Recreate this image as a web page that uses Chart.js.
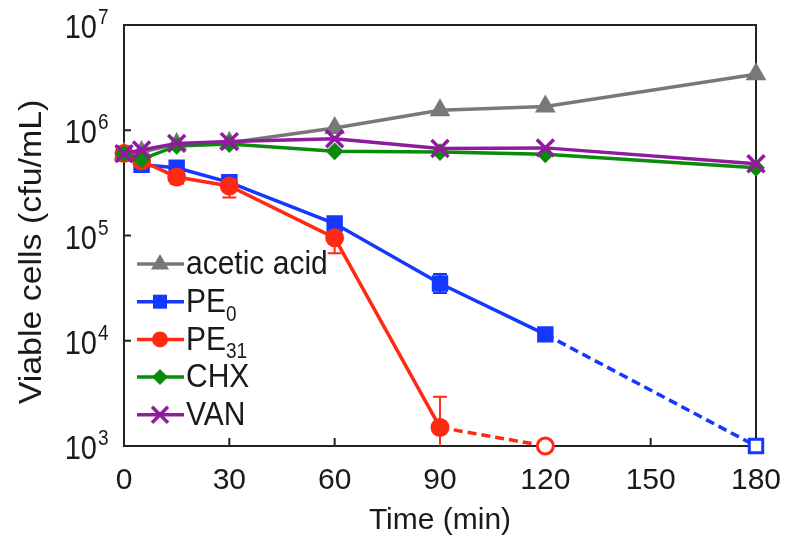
<!DOCTYPE html>
<html>
<head>
<meta charset="utf-8">
<script src="https://cdn.jsdelivr.net/npm/chart.js@4.4.0/dist/chart.umd.min.js"></script>
<style>
  html, body { margin: 0; padding: 0; background: #fff; }
</style>
</head>
<body>
<canvas id="grafico" width="787" height="539"></canvas>
<script>
// time points (min)
const times = [0, 5, 15, 30, 60, 90, 120, 180];
const xTicks = [0, 30, 60, 90, 120, 150, 180];
const yTicks = [1e3, 1e4, 1e5, 1e6, 1e7];

// viable cells (cfu/mL)
const aceticAcid = [6.0e5, 6.2e5, 7.4e5, 7.6e5, 1.05e6, 1.55e6, 1.68e6, 3.4e6];
const pe0 = [6.0e5, 4.7e5, 4.4e5, 3.2e5, 1.3e5, 3.5e4, 1.15e4, 1.0e3];
const pe31 = [6.0e5, 5.1e5, 3.6e5, 2.95e5, 9.5e4, 1.5e3, 1.0e3];
const chx = [6.0e5, 5.3e5, 7.1e5, 7.4e5, 6.3e5, 6.2e5, 5.9e5, 4.4e5];
const van = [6.0e5, 6.5e5, 7.5e5, 7.8e5, 8.3e5, 6.7e5, 6.8e5, 4.8e5];

// error bars [low, high]
const pe0Err = [null, null, [3.8e5, 5.0e5], [2.8e5, 3.6e5], [1.15e5, 1.5e5], [2.85e4, 4.3e4], [1.05e4, 1.25e4], null];
const pe31Err = [null, null, [3.1e5, 4.1e5], [2.3e5, 3.4e5], [6.8e4, 1.1e5], [1.0e3, 2.93e3], null];

const FONT = "'Liberation Sans', Arial, sans-serif";
const TXT = "#1a1a1a";

const cinza = "#787878";
const azul = "#1438ff";
const vermelho = "#ff2a14";
const verde = "#0a8c0a";
const roxo = "#8e1c9c";

function pontos(vals) {
  return vals.map((v, i) => ({ x: times[i], y: v }));
}

// last point below the detection limit: open marker + dashed segment
function abaixoLimite(vals, cor) {
  const last = vals.length - 1;
  return {
    pointBackgroundColor: vals.map((v, i) => i === last ? "#fff" : cor),
    segment: { borderDash: c => c.p1DataIndex === last ? [9, 5] : undefined }
  };
}

const serie = (label, vals, cor, style, radius, order, extra) => Object.assign({
  label: label,
  data: pontos(vals),
  borderColor: cor,
  backgroundColor: cor,
  pointBackgroundColor: cor,
  pointBorderColor: cor,
  borderWidth: 3.5,
  pointStyle: style,
  pointRadius: radius,
  pointBorderWidth: 2,
  order: order,
  clip: false
}, extra || {});

const datasets = [
  serie("acetic acid", aceticAcid, cinza, "triangle", 10, 4),
  serie("PE0", pe0, azul, "rect", 9.5, 3, abaixoLimite(pe0, azul)),
  serie("PE31", pe31, vermelho, "circle", 8, 2, abaixoLimite(pe31, vermelho)),
  serie("CHX", chx, verde, "rectRot", 7.5, 1),
  serie("VAN", van, roxo, "crossRot", 12, 0, { pointBorderWidth: 3.5 })
];
datasets[1].pointBorderWidth = 3;
datasets[2].pointBorderWidth = 3;

const errosPorSerie = [[1, pe0Err, azul], [2, pe31Err, vermelho]];

function marcador(ctx, style, x, y, cor) {
  ctx.save();
  ctx.fillStyle = cor;
  ctx.strokeStyle = cor;
  ctx.lineWidth = 3.5;
  ctx.beginPath();
  if (style === "triangle") {
    ctx.moveTo(x, y - 10); ctx.lineTo(x + 9, y + 5.5); ctx.lineTo(x - 9, y + 5.5); ctx.closePath(); ctx.fill();
  } else if (style === "rect") {
    ctx.rect(x - 7, y - 7, 14, 14); ctx.fill();
  } else if (style === "circle") {
    ctx.arc(x, y, 8, 0, Math.PI * 2); ctx.fill();
  } else if (style === "rectRot") {
    ctx.moveTo(x, y - 8); ctx.lineTo(x + 8, y); ctx.lineTo(x, y + 8); ctx.lineTo(x - 8, y); ctx.closePath(); ctx.fill();
  } else {
    ctx.moveTo(x - 8, y - 8); ctx.lineTo(x + 8, y + 8); ctx.moveTo(x + 8, y - 8); ctx.lineTo(x - 8, y + 8); ctx.stroke();
  }
  ctx.restore();
}

// text drawn a little taller than wide, like the reference
function textoAlto(ctx, txt, x, y, size, align, baseline) {
  ctx.save();
  ctx.translate(x, y);
  ctx.scale(1, 1.13);
  ctx.font = size + "px " + FONT;
  ctx.textAlign = align;
  ctx.textBaseline = baseline;
  ctx.fillText(txt, 0, 0);
  ctx.restore();
}

const moldura = {
  id: "moldura",
  beforeDatasetsDraw(chart) {
    const { ctx, chartArea: a, scales: { x, y } } = chart;
    ctx.save();
    ctx.strokeStyle = "#222";
    ctx.lineWidth = 2;
    ctx.strokeRect(a.left, a.top, a.right - a.left, a.bottom - a.top);
    ctx.beginPath();
    yTicks.forEach(v => {
      const py = y.getPixelForValue(v);
      ctx.moveTo(a.left, py); ctx.lineTo(a.left + 7, py);
    });
    xTicks.forEach(v => {
      const px = x.getPixelForValue(v);
      ctx.moveTo(px, a.bottom); ctx.lineTo(px, a.bottom - 8);
    });
    ctx.stroke();

    // error bars
    errosPorSerie.forEach(([idx, errs, cor]) => {
      ctx.strokeStyle = cor;
      ctx.lineWidth = 2;
      errs.forEach((e, i) => {
        if (!e) return;
        const px = x.getPixelForValue(times[i]);
        const lo = Math.min(y.getPixelForValue(e[0]), a.bottom);
        const hi = y.getPixelForValue(e[1]);
        ctx.beginPath();
        ctx.moveTo(px, lo); ctx.lineTo(px, hi);
        ctx.moveTo(px - 7, hi); ctx.lineTo(px + 7, hi);
        if (lo < a.bottom - 1) { ctx.moveTo(px - 7, lo); ctx.lineTo(px + 7, lo); }
        ctx.stroke();
      });
    });
    ctx.restore();
  },
  afterDraw(chart) {
    const { ctx, scales: { y } } = chart;
    ctx.save();
    ctx.fillStyle = TXT;

    // y tick labels: 10^n
    yTicks.forEach(v => {
      const py = y.getPixelForValue(v);
      const exp = Math.round(Math.log10(v));
      textoAlto(ctx, "10", 97, py + 13, 29, "right", "alphabetic");
      textoAlto(ctx, String(exp), 98, py - 1, 19, "left", "alphabetic");
    });

    // y axis title
    ctx.save();
    ctx.translate(32, 252);
    ctx.rotate(-Math.PI / 2);
    ctx.scale(1.13, 1.05);
    ctx.font = "30px " + FONT;
    ctx.textAlign = "center";
    ctx.textBaseline = "middle";
    ctx.fillText("Viable cells (cfu/mL)", 0, 0);
    ctx.restore();

    // legend
    const legenda = [
      ["acetic acid", "", cinza, "triangle"],
      ["PE", "0", azul, "rect"],
      ["PE", "31", vermelho, "circle"],
      ["CHX", "", verde, "rectRot"],
      ["VAN", "", roxo, "crossRot"]
    ];
    legenda.forEach(([txt, sub, cor, style], i) => {
      const ly = 264 + i * 37.7;
      ctx.strokeStyle = cor;
      ctx.lineWidth = 3.5;
      ctx.beginPath();
      ctx.moveTo(137, ly); ctx.lineTo(184, ly);
      ctx.stroke();
      marcador(ctx, style, 160, ly, cor);
      ctx.fillStyle = TXT;
      textoAlto(ctx, txt, 186, ly + 1, 30, "left", "middle");
      if (sub) {
        ctx.font = "30px " + FONT;
        const w = ctx.measureText(txt).width;
        textoAlto(ctx, sub, 186 + w, ly + 13, 19, "left", "middle");
      }
    });
    ctx.restore();
  }
};

new Chart(document.getElementById("grafico"), {
  type: "line",
  data: { datasets: datasets },
  options: {
    responsive: false,
    animation: false,
    layout: { padding: { top: 25, right: 31, left: 0, bottom: 0 } },
    plugins: { legend: { display: false }, tooltip: { enabled: false } },
    scales: {
      x: {
        type: "linear",
        min: 0,
        max: 180,
        afterBuildTicks: s => { s.ticks = xTicks.map(v => ({ value: v })); },
        afterFit: s => { s.height = 93; s.paddingLeft = 0; s.paddingRight = 0; },
        grid: { display: false },
        border: { display: false },
        ticks: { color: TXT, font: { family: FONT, size: 30 }, padding: 9, maxRotation: 0, autoSkip: false },
        title: { display: true, text: "Time (min)", color: TXT, font: { family: FONT, size: 30 }, padding: { top: 0, bottom: 0 } }
      },
      y: {
        type: "logarithmic",
        min: 1e3,
        max: 1e7,
        afterBuildTicks: s => { s.ticks = yTicks.map(v => ({ value: v })); },
        afterFit: s => { s.width = 124; },
        grid: { display: false },
        border: { display: false },
        ticks: { display: false }
      }
    }
  },
  plugins: [moldura]
});
</script>
</body>
</html>
